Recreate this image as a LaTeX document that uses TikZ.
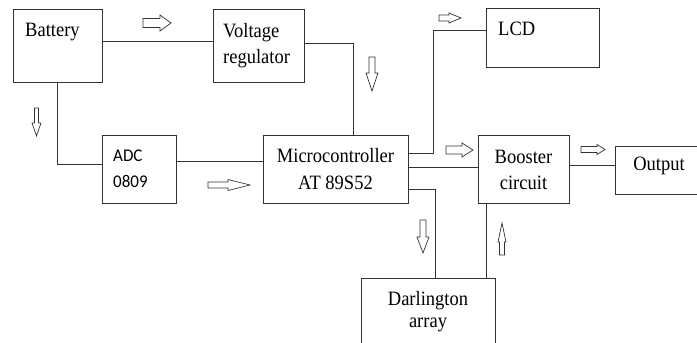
\documentclass[tikz,border=0pt]{standalone}
\usepackage{fontspec}
\setmainfont{Liberation Serif}
\newfontfamily\adcfont{Carlito}
\definecolor{ln}{HTML}{333333}
\newcommand\harr[6]{% x1 x2 y headstart headw shaftw
  \draw[arrline] (#1,{#3-#6/2}) -- (#4,{#3-#6/2}) -- (#4,{#3-#5/2}) -- (#2,#3) -- (#4,{#3+#5/2}) -- (#4,{#3+#6/2}) -- (#1,{#3+#6/2}) -- cycle;}
\newcommand\varr[6]{% x ytail ytip headstart headw shaftw
  \draw[arrline] ({#1-#6/2},#2) -- ({#1-#6/2},#4) -- ({#1-#5/2},#4) -- (#1,#3) -- ({#1+#5/2},#4) -- ({#1+#6/2},#4) -- ({#1+#6/2},#2) -- cycle;}
\begin{document}
\begin{tikzpicture}[x=1pt,y=-1pt,
  box/.style={draw=ln,line width=0.9pt,anchor=north west,inner sep=0pt},
  wire/.style={draw=ln,line width=0.9pt},
  arrline/.style={draw=ln,line width=0.7pt,fill=white},
  txt/.style={font=\fontsize{18.5}{22}\selectfont,inner sep=0pt,yscale=1.1,transform shape},
  stxt/.style={font=\adcfont\fontsize{17}{20}\selectfont,inner sep=0pt,yscale=1.05,transform shape}]
\useasboundingbox (0,0) rectangle (697,343);
\fill[white] (0,0) rectangle (697,343);
\clip (0,0) rectangle (697,343);
% boxes
\node[box,minimum width=89pt,minimum height=73pt] (bat) at (13,9) {};
\node[box,minimum width=91pt,minimum height=73pt] (vr) at (213,9) {};
\node[box,minimum width=113pt,minimum height=59pt] (lcd) at (486,8) {};
\node[box,minimum width=74pt,minimum height=68pt] (adc) at (102,135) {};
\node[box,minimum width=145pt,minimum height=68pt] (mc) at (263,135) {};
\node[box,minimum width=91pt,minimum height=68pt] (bst) at (478,135) {};
\node[box,minimum width=100pt,minimum height=48pt] (out) at (615,146) {};
\node[box,minimum width=134pt,minimum height=80pt] (dar) at (361,278) {};
% texts
\node[txt,anchor=base west] (batT) at (25,36) {Battery};
\node[txt,anchor=base west] (vrT1) at (223,37) {Voltage};
\node[txt,anchor=base west] (vrT2) at (223,63) {regulator};
\node[txt,anchor=base west] (lcdT) at (498,35) {LCD};
\node[stxt,anchor=base west] (adcT1) at (113,161) {ADC};
\node[stxt,anchor=base west] (adcT2) at (113,187) {0809};
\node[txt,anchor=base] (mcT1) at (335.5,162) {Microcontroller};
\node[txt,anchor=base] (mcT2) at (335.5,189) {AT 89S52};
\node[txt,anchor=base] (bstT1) at (523.5,163) {Booster};
\node[txt,anchor=base] (bstT2) at (523.5,189) {circuit};
\node[txt,anchor=base] (outT) at (659,170) {Output};
\node[txt,anchor=base] (darT1) at (428,305) {Darlington};
\node[txt,anchor=base] (darT2) at (428,327) {array};
% helper coordinates
\coordinate (c1) at (57,164);
\coordinate (c2) at (353,43);
\coordinate (c3) at (433,153);
\coordinate (c4) at (433,30);
\coordinate (c5) at (435,189);
% connectors
\draw[wire] (bat.east |- 0,41) -- (vr.west |- 0,41);
\draw[wire] (bat.south -| c1) -- (c1) -- (adc.west |- c1);
\draw[wire] (vr.east |- c2) -- (c2) -- (mc.north -| c2);
\draw[wire] (adc.east |- 0,161) -- (mc.west |- 0,161);
\draw[wire] (mc.east |- c3) -- (c3) -- (c4) -- (lcd.west |- c4);
\draw[wire] (mc.east |- 0,167) -- (bst.west |- 0,167);
\draw[wire] (mc.east |- c5) -- (c5) -- (dar.north -| c5);
\draw[wire] (bst.south -| 486,0) -- (dar.north -| 486,0);
\draw[wire] (bst.east |- 0,165) -- (out.west |- 0,165);
% hollow arrows
\harr{143}{171}{23}{160}{16}{9}
\harr{439}{461}{18}{449}{10}{6}
\harr{208}{250}{185}{228}{11}{6}
\harr{446}{473}{150}{462}{14}{8}
\harr{581}{605}{149.5}{597}{10}{6}
\varr{36.5}{108}{136}{123}{9}{4}
\varr{372}{57}{91}{73}{12}{6}
\varr{423}{220}{253}{237}{12}{6}
\varr{502}{255}{223}{242}{8}{5}
\end{tikzpicture}
\end{document}
